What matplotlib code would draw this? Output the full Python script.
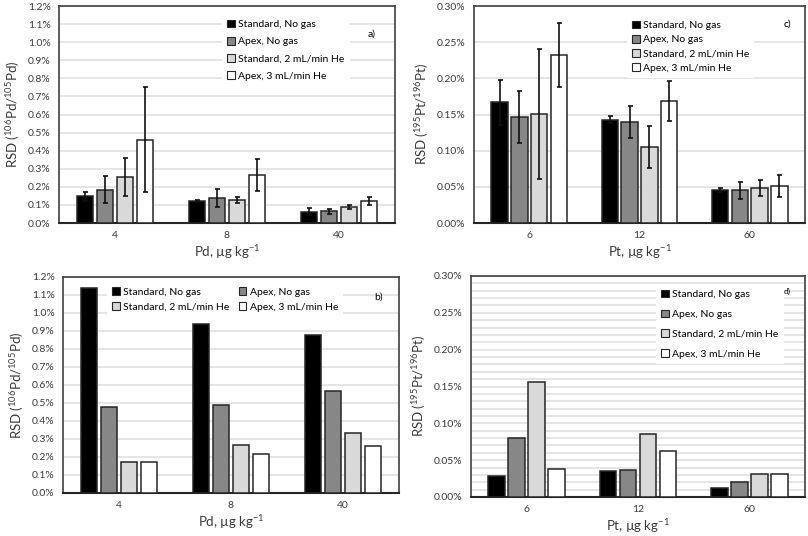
import numpy as np
import matplotlib
matplotlib.use("Agg")
import matplotlib.pyplot as plt
from matplotlib.patches import Patch

plt.rcParams['font.family'] = ['Lato', 'DejaVu Sans']
plt.rcParams['mathtext.default'] = 'regular'

series = ['Standard, No gas', 'Apex, No gas', 'Standard, 2 mL/min He', 'Apex, 3 mL/min He']
colors = ['#000000', '#878787', '#d9d9d9', '#ffffff']

pd_levels = ['4', '8', '40']
pt_levels = ['6', '12', '60']

# a) Pd, mean RSD with error bars (%)
pd_a = [[0.147, 0.120, 0.062],
        [0.184, 0.138, 0.065],
        [0.257, 0.127, 0.090],
        [0.460, 0.265, 0.120]]
pd_a_err = [[0.023, 0.005, 0.020],
            [0.074, 0.050, 0.013],
            [0.105, 0.017, 0.012],
            [0.290, 0.090, 0.022]]

# c) Pt, mean RSD with error bars (%)
pt_c = [[0.167, 0.143, 0.046],
        [0.147, 0.140, 0.045],
        [0.151, 0.105, 0.048],
        [0.232, 0.169, 0.051]]
pt_c_err = [[0.031, 0.005, 0.003],
            [0.036, 0.022, 0.012],
            [0.090, 0.029, 0.011],
            [0.044, 0.028, 0.015]]

# b) Pd, single values (%)
pd_b = [[1.137, 0.937, 0.876],
        [0.476, 0.487, 0.569],
        [0.172, 0.268, 0.335],
        [0.170, 0.215, 0.263]]

# d) Pt, single values (%)
pt_d = [[0.029, 0.035, 0.012],
        [0.080, 0.037, 0.021],
        [0.156, 0.086, 0.031],
        [0.038, 0.063, 0.031]]

W, H = 808, 536
fig = plt.figure(figsize=(W / 100, H / 100), dpi=100)


def make_ax(l, t, r, b):
    return fig.add_axes([l / W, 1 - b / H, (r - l) / W, (b - t) / H])


def draw(ax, cats, vals, errs, ymax, step, grid_step, fmt, xlab, ylab):
    x = np.arange(len(cats))
    bw = 0.149
    sp = 0.179
    for i in range(4):
        xs = x + (i - 1.5) * sp
        ax.bar(xs, vals[i], bw, color=colors[i], edgecolor='#262626',
               linewidth=1.1, zorder=3)
        if errs is not None:
            ax.errorbar(xs, vals[i], yerr=errs[i], fmt='none', ecolor='#111111',
                        elinewidth=1.2, capsize=1.8, capthick=1.2, zorder=4)
    ax.set_xlim(-0.5, len(cats) - 0.5)
    ax.set_ylim(0, ymax)
    ax.set_xticks(x)
    ax.set_xticklabels(cats)
    ticks = np.arange(0, ymax + step / 2, step)
    ax.set_yticks(ticks)
    ax.set_yticklabels([fmt.format(t) for t in ticks])
    for g in np.arange(grid_step, ymax + grid_step / 2, grid_step):
        ax.axhline(g, color='#e3e3e3', linewidth=1.3, zorder=1)
    ax.tick_params(length=0, labelsize=7.5, colors='#3a3a3a', pad=6)
    for s in ax.spines.values():
        s.set_color('#404040')
        s.set_linewidth(1.2)
    ax.spines['bottom'].set_color('#262626')
    ax.spines['bottom'].set_linewidth(1.5)
    ax.set_xlabel(xlab, fontsize=9.5, color='#3a3a3a', labelpad=2)
    ax.set_ylabel(ylab, fontsize=9.5, color='#3a3a3a', labelpad=4)


handles = [Patch(facecolor=c, edgecolor='#262626', linewidth=0.8) for c in colors]

pd_ylab = r'RSD ($^{106}$Pd/$^{105}$Pd)'
pt_ylab = r'RSD ($^{195}$Pt/$^{196}$Pt)'
pd_xlab = r'Pd, µg kg$^{-1}$'
pt_xlab = r'Pt, µg kg$^{-1}$'

leg_kw = dict(loc='upper left', fontsize=7.5, frameon=True, fancybox=False,
              edgecolor='none', framealpha=1, handlelength=0.75, handleheight=0.75,
              handletextpad=0.3, borderpad=0.5)

# a)
ax = make_ax(59, 6, 395, 223)
draw(ax, pd_levels, pd_a, pd_a_err, 1.2, 0.1, 0.1, '{:.1f}%', pd_xlab, pd_ylab)
leg = ax.legend(handles, series, bbox_to_anchor=(0.47, 0.985),
                labelspacing=0.75, **leg_kw)
leg.set_zorder(5)
ax.text(0.93, 0.87, 'a)', transform=ax.transAxes, fontsize=7.5,
        ha='center', va='center', zorder=6)

# c)
ax = make_ax(474, 6, 805, 223)
draw(ax, pt_levels, pt_c, pt_c_err, 0.30, 0.05, 0.05, '{:.2f}%', pt_xlab, pt_ylab)
leg = ax.legend(handles, series, bbox_to_anchor=(0.445, 0.98),
                labelspacing=0.45, **leg_kw)
leg.set_zorder(5)
ax.text(0.946, 0.917, 'c)', transform=ax.transAxes, fontsize=7.5,
        ha='center', va='center', zorder=6)

# b) legend filled row by row: two entries per row
order = [0, 2, 1, 3]
ax = make_ax(63, 277, 399, 493)
draw(ax, pd_levels, pd_b, None, 1.2, 0.1, 0.1, '{:.1f}%', pd_xlab, pd_ylab)
leg = ax.legend([handles[i] for i in order], [series[i] for i in order],
                bbox_to_anchor=(0.115, 1.0), ncol=2, labelspacing=0.5,
                columnspacing=0.9, **leg_kw)
leg.set_zorder(5)
ax.text(0.94, 0.907, 'b)', transform=ax.transAxes, fontsize=7.5,
        ha='center', va='center', zorder=6)

# d)
ax = make_ax(471, 276, 805, 497)
draw(ax, pt_levels, pt_d, None, 0.30, 0.05, 0.01, '{:.2f}%', pt_xlab, pt_ylab)
leg = ax.legend(handles, series, bbox_to_anchor=(0.538, 0.985),
                labelspacing=1.0, **leg_kw)
leg.set_zorder(5)
ax.text(0.946, 0.928, 'd)', transform=ax.transAxes, fontsize=6,
        ha='center', va='center', zorder=6)

fig.savefig('out.png', dpi=100)
